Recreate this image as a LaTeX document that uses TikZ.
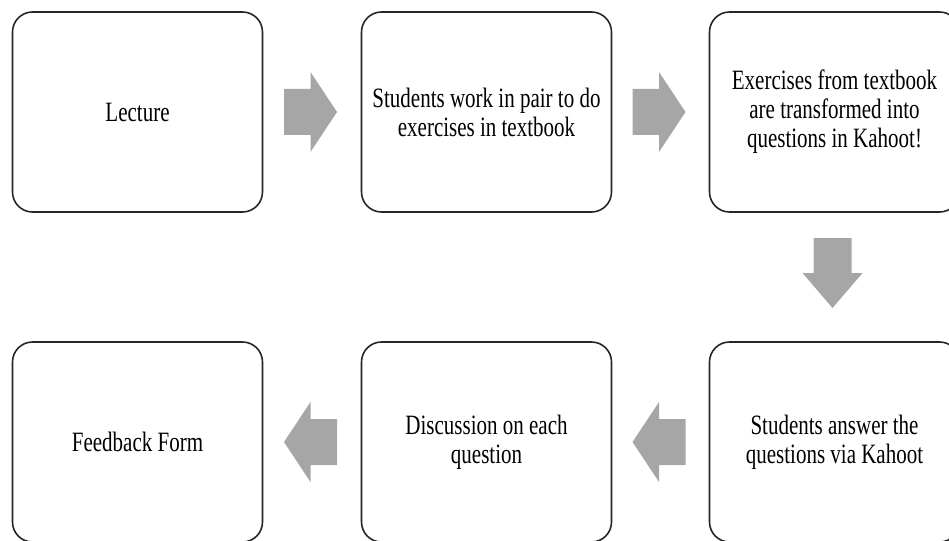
\documentclass[tikz,border=0pt]{standalone}
\usepackage{fontspec}
\setmainfont{Liberation Serif}[FakeStretch=0.75]
\usetikzlibrary{positioning}

\definecolor{arrowgray}{HTML}{A6A6A6}

\tikzset{
  stagebox/.style={draw=black!85, fill=white, line width=1.6pt,
    rounded corners=20pt, minimum width=250pt, minimum height=200pt,
    inner sep=0pt, outer sep=0pt, align=center,
    font=\fontsize{28}{29}\selectfont},
  % block arrows, drawn pointing right
  harrow/.pic={\fill[arrowgray] (-26.5,-23) -- (0,-23) -- (0,-40) -- (26.5,0)
    -- (0,40) -- (0,23) -- (-26.5,23) -- cycle;},
  varrow/.pic={\fill[arrowgray] (-35,-19) -- (0,-19) -- (0,-30) -- (35,0)
    -- (0,30) -- (0,19) -- (-35,19) -- cycle;}
}

\begin{document}
\begin{tikzpicture}[x=1pt,y=-1pt]
    \useasboundingbox (0,0) rectangle (949,540);
    \clip (0,0) rectangle (949,540);
    % top row
    \node[stagebox] (lecture) at (137.5,112) {Lecture};
    \node[stagebox, right=99pt of lecture] (pair)
      {Students work in pair to do\\exercises in textbook};
    \node[stagebox, right=98pt of pair] (kahoot)
      {Exercises from textbook\\are transformed into\\questions in Kahoot!};
    % bottom row
    \node[stagebox, below=130pt of kahoot] (answer)
      {Students answer the\\questions via Kahoot};
    \node[stagebox, left=98pt of answer] (discuss)
      {Discussion on each\\question};
    \node[stagebox, left=99pt of discuss] (feedback) {Feedback Form};
    % arrows between the steps
    \foreach \from/\to/\ang in {lecture/pair/0, pair/kahoot/0,
        answer/discuss/180, discuss/feedback/180} {
      \path (\from) -- (\to) coordinate[midway] (m-\from);
      \pic[rotate=\ang] at ([xshift=-1.5pt]m-\from) {harrow};
    }
    \path (kahoot) -- (answer) coordinate[midway] (m-kahoot);
    \pic[rotate=-90] at ([xshift=-2pt,yshift=4pt]m-kahoot) {varrow};
\end{tikzpicture}
\end{document}
